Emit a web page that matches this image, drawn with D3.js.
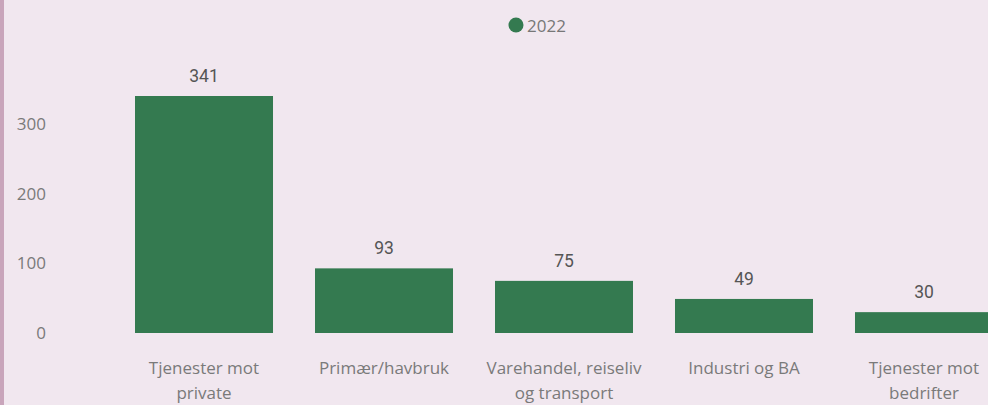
<!DOCTYPE html>
<html>
<head>
<meta charset="utf-8">
<script src="https://cdn.jsdelivr.net/npm/d3@7"></script>
<style>
  html, body { margin: 0; padding: 0; background: #f1e7ef; }
  svg { display: block; }
</style>
</head>
<body>
<script>
"use strict";
var categories = [
  ["Tjenester mot", "private"],
  ["Primær/havbruk"],
  ["Varehandel, reiseliv", "og transport"],
  ["Industri og BA"],
  ["Tjenester mot", "bedrifter"]
];
var values_2022 = [341, 93, 75, 49, 30];
var tick_values = [0, 100, 200, 300];
var series_name = "2022";

var width = 988,
    height = 405;
var bar_color = "#347a50";
var axis_color = "#7a7a7a";
var font = "'Open Sans', sans-serif";

var svg = d3.select("body")
  .append("svg")
  .attr("width", width)
  .attr("height", height);

svg.append("rect")
  .attr("width", width)
  .attr("height", height)
  .attr("fill", "#f1e7ef");

// pink edge on the left
svg.append("rect")
  .attr("x", 0)
  .attr("y", 0)
  .attr("width", 4)
  .attr("height", height)
  .attr("fill", "#c9a5bb");

var x = d3.scaleBand()
  .domain(d3.range(categories.length))
  .range([114, 1014])
  .paddingInner(0.2333)
  .paddingOuter(0.1167);

var y = d3.scaleLinear()
  .domain([0, 341])
  .range([333, 96]);

// y axis
var yAxis = svg.append("g")
  .attr("transform", "translate(46,0)")
  .call(d3.axisLeft(y).tickValues(tick_values).tickSize(0).tickPadding(0));
yAxis.select(".domain").remove();
yAxis.selectAll("text")
  .attr("fill", axis_color)
  .attr("font-family", font)
  .attr("font-size", "17px");

// bars
svg.selectAll("rect.bar")
  .data(values_2022)
  .enter()
  .append("rect")
  .attr("class", "bar")
  .attr("x", function(d, i) { return x(i); })
  .attr("y", function(d) { return y(d); })
  .attr("width", x.bandwidth())
  .attr("height", function(d) { return y(0) - y(d); })
  .attr("fill", bar_color);

// value labels
svg.selectAll("text.value")
  .data(values_2022)
  .enter()
  .append("text")
  .attr("class", "value")
  .attr("x", function(d, i) { return x(i) + x.bandwidth()/2; })
  .attr("y", function(d) { return y(d) - 14; })
  .attr("text-anchor", "middle")
  .attr("font-family", "Roboto, sans-serif")
  .attr("font-size", "17.5px")
  .attr("fill", "#555")
  .text(function(d) { return d; });

// category labels
var cat = svg.selectAll("text.cat")
  .data(categories)
  .enter()
  .append("text")
  .attr("class", "cat")
  .attr("text-anchor", "middle")
  .attr("font-family", font)
  .attr("font-size", "17px")
  .attr("fill", axis_color);
cat.selectAll("tspan")
  .data(function(d, i) { return d.map(function(s) { return {s: s, i: i}; }); })
  .enter()
  .append("tspan")
  .attr("x", function(d) { return x(d.i) + x.bandwidth()/2; })
  .attr("y", function(d, j) { return 374 + j*25; })
  .text(function(d) { return d.s; });

// legend
var legend = svg.append("g").attr("transform", "translate(516,25)");
legend.append("circle")
  .attr("r", 7.5)
  .attr("fill", bar_color);
legend.append("text")
  .attr("x", 11)
  .attr("y", 6.5)
  .attr("font-family", font)
  .attr("font-size", "17px")
  .attr("fill", "#777")
  .text(series_name);
</script>
</body>
</html>
